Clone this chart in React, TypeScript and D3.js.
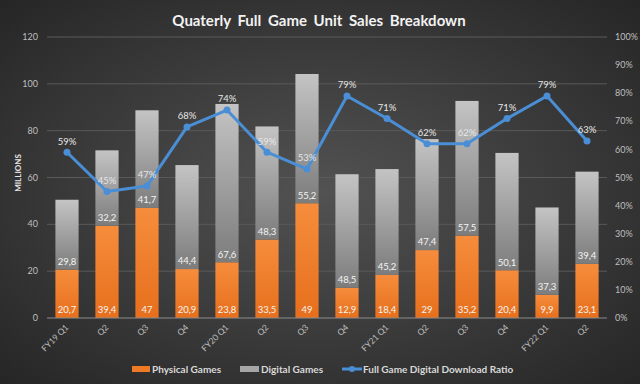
import { useEffect, useRef } from "react";
import * as d3 from "d3";

// chart data
const quarters = [
  "FY19 Q1", "Q2", "Q3", "Q4",
  "FY20 Q1", "Q2", "Q3", "Q4",
  "FY21 Q1", "Q2", "Q3", "Q4",
  "FY22 Q1", "Q2",
];
const physical = [20.7, 39.4, 47, 20.9, 23.8, 33.5, 49, 12.9, 18.4, 29, 35.2, 20.4, 9.9, 23.1];
const digital = [29.8, 32.2, 41.7, 44.4, 67.6, 48.3, 55.2, 48.5, 45.2, 47.4, 57.5, 50.1, 37.3, 39.4];
const ratio = [59, 45, 47, 68, 74, 59, 53, 79, 71, 62, 62, 71, 79, 63];
const leftTicks = [0, 20, 40, 60, 80, 100, 120];
const rightTicks = [0, 10, 20, 30, 40, 50, 60, 70, 80, 90, 100];

const W = 640;
const H = 384;
const FONT = "Lato, 'Open Sans', sans-serif";

const fmt = (v: number) => String(v).replace(".", ",");

export default function App() {
  const ref = useRef<SVGSVGElement>(null);

  useEffect(() => {
    const MARGIN = { LEFT: 47, RIGHT: 33, TOP: 37, BOTTOM: 66 };
    const WIDTH = W - MARGIN.LEFT - MARGIN.RIGHT;
    const HEIGHT = H - MARGIN.TOP - MARGIN.BOTTOM;

    const svg = d3.select(ref.current);
    svg.selectAll("*").remove();

    const defs = svg.append("defs");
    const bg = defs.append("radialGradient").attr("id", "bg")
      .attr("cx", "50%").attr("cy", "50%").attr("r", "70%");
    bg.append("stop").attr("offset", "0%").attr("stop-color", "#525252");
    bg.append("stop").attr("offset", "100%").attr("stop-color", "#262626");

    const grey = defs.append("linearGradient").attr("id", "grey")
      .attr("x1", 0).attr("y1", 0).attr("x2", 0).attr("y2", 1);
    grey.append("stop").attr("offset", "0%").attr("stop-color", "#c4c4c4");
    grey.append("stop").attr("offset", "100%").attr("stop-color", "#7c7c7c");

    const orange = defs.append("linearGradient").attr("id", "orange")
      .attr("x1", 0).attr("y1", 0).attr("x2", 0).attr("y2", 1);
    orange.append("stop").attr("offset", "0%").attr("stop-color", "#f68d3c");
    orange.append("stop").attr("offset", "100%").attr("stop-color", "#e66f1c");

    svg.append("rect").attr("width", W).attr("height", H).attr("fill", "url(#bg)");

    // title
    svg.append("text")
      .attr("x", 319).attr("y", 26)
      .attr("text-anchor", "middle")
      .attr("font-family", FONT).attr("font-weight", "bold")
      .attr("font-size", "15px").attr("fill", "#f2f2f2")
      .attr("word-spacing", "3px")
      .text("Quaterly Full Game Unit Sales Breakdown");

    const g = svg.append("g").attr("transform", `translate(${MARGIN.LEFT}, ${MARGIN.TOP})`);

    const x = d3.scaleBand().domain(quarters.map((q, i) => i + "")).range([0, WIDTH])
      .paddingInner(0.42).paddingOuter(0.21);
    const y = d3.scaleLinear().domain([0, 120]).range([HEIGHT, 0]);
    const yr = d3.scaleLinear().domain([0, 100]).range([HEIGHT, 0]);

    // gridlines
    g.selectAll(".grid").data(leftTicks.slice(1)).enter().append("line")
      .attr("x1", 0).attr("x2", WIDTH)
      .attr("y1", (d) => y(d)).attr("y2", (d) => y(d))
      .attr("stroke", "#5a5a5a").attr("stroke-width", 1);

    // left axis labels
    g.selectAll(".ly").data(leftTicks).enter().append("text")
      .attr("x", -9).attr("y", (d) => y(d)).attr("dy", "0.35em")
      .attr("text-anchor", "end").attr("font-family", FONT)
      .attr("font-size", "9px").attr("fill", "#bfbfbf")
      .text((d) => d);

    // right axis labels
    g.selectAll(".ry").data(rightTicks).enter().append("text")
      .attr("x", WIDTH + 8).attr("y", (d) => yr(d)).attr("dy", "0.35em")
      .attr("font-family", FONT)
      .attr("font-size", "9px").attr("fill", "#bfbfbf")
      .text((d) => d + "%");

    // y label
    svg.append("text")
      .attr("transform", `translate(21, 173) rotate(-90)`)
      .attr("text-anchor", "middle").attr("font-family", FONT)
      .attr("font-weight", "bold").attr("font-size", "8px").attr("fill", "#e6e6e6")
      .text("MILLIONS");

    // bars
    const idx = d3.range(quarters.length);
    g.selectAll(".phys").data(idx).enter().append("rect")
      .attr("x", (i) => x(i + "")!).attr("width", x.bandwidth())
      .attr("y", (i) => y(physical[i])).attr("height", (i) => HEIGHT - y(physical[i]))
      .attr("fill", "url(#orange)");
    g.selectAll(".dig").data(idx).enter().append("rect")
      .attr("x", (i) => x(i + "")!).attr("width", x.bandwidth())
      .attr("y", (i) => y(physical[i] + digital[i]))
      .attr("height", (i) => y(physical[i]) - y(physical[i] + digital[i]))
      .attr("fill", "url(#grey)");

    const cx = (i: number) => x(i + "")! + x.bandwidth() / 2;

    // bar labels
    g.selectAll(".pl").data(idx).enter().append("text")
      .attr("x", cx).attr("y", HEIGHT - 8).attr("dy", "0.35em")
      .attr("text-anchor", "middle").attr("font-family", FONT)
      .attr("font-size", "9.5px").attr("fill", "#f4f4f4")
      .text((i) => fmt(physical[i]));
    g.selectAll(".dl").data(idx).enter().append("text")
      .attr("x", cx).attr("y", (i) => y(physical[i]) - 8).attr("dy", "0.35em")
      .attr("text-anchor", "middle").attr("font-family", FONT)
      .attr("font-size", "9.5px").attr("fill", "#f4f4f4")
      .text((i) => fmt(digital[i]));

    // x axis
    g.append("line").attr("x1", 0).attr("x2", WIDTH).attr("y1", HEIGHT).attr("y2", HEIGHT)
      .attr("stroke", "#8c8c8c");
    g.selectAll(".xl").data(idx).enter().append("text")
      .attr("transform", (i) => `translate(${cx(i) + 2}, ${HEIGHT + 10}) rotate(-45)`)
      .attr("text-anchor", "end").attr("font-family", FONT)
      .attr("font-size", "8.5px").attr("fill", "#bfbfbf")
      .text((i) => quarters[i]);

    // ratio line
    const line = d3.line<number>().x(cx).y((i) => yr(ratio[i]));
    g.append("path").datum(idx).attr("d", line)
      .attr("fill", "none").attr("stroke", "#4a8fd6").attr("stroke-width", 3)
      .attr("stroke-linejoin", "round");
    g.selectAll(".pt").data(idx).enter().append("circle")
      .attr("cx", cx).attr("cy", (i) => yr(ratio[i])).attr("r", 3.5)
      .attr("fill", "#4a8fd6");
    g.selectAll(".rl").data(idx).enter().append("text")
      .attr("x", cx).attr("y", (i) => yr(ratio[i]) - 11).attr("dy", "0.35em")
      .attr("text-anchor", "middle").attr("font-family", FONT)
      .attr("font-size", "9.5px").attr("fill", "#e6e6e6")
      .text((i) => ratio[i] + "%");

    // legend
    const lg = svg.append("g").attr("font-family", FONT).attr("font-weight", "bold")
      .attr("font-size", "10px").attr("fill", "#d9d9d9");
    lg.append("rect").attr("x", 132).attr("y", 366).attr("width", 18).attr("height", 6).attr("fill", "#ee7a26");
    lg.append("text").attr("x", 152).attr("y", 369).attr("dy", "0.35em").text("Physical Games");
    lg.append("rect").attr("x", 240).attr("y", 366).attr("width", 19).attr("height", 6).attr("fill", "#a6a6a6");
    lg.append("text").attr("x", 261).attr("y", 369).attr("dy", "0.35em").text("Digital Games");
    lg.append("line").attr("x1", 342).attr("x2", 362).attr("y1", 369).attr("y2", 369)
      .attr("stroke", "#4a8fd6").attr("stroke-width", 3);
    lg.append("circle").attr("cx", 352).attr("cy", 369).attr("r", 3).attr("fill", "#4a8fd6");
    lg.append("text").attr("x", 363).attr("y", 369).attr("dy", "0.35em").text("Full Game Digital Download Ratio");
  }, []);

  return (
    <svg ref={ref} width={W} height={H}
      style={{ position: "absolute", left: 0, top: 0, display: "block" }} />
  );
}
